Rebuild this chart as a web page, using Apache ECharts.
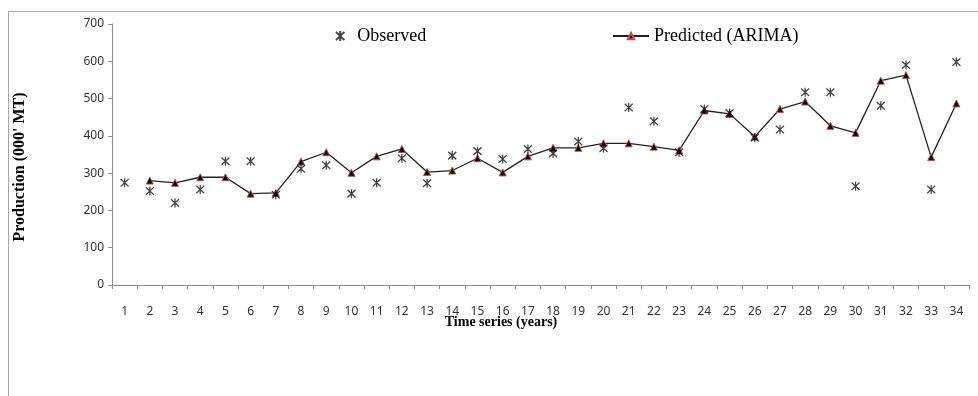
<!DOCTYPE html>
<html>
<head>
<meta charset="utf-8">
<script src="https://cdn.jsdelivr.net/npm/echarts@6/dist/echarts.min.js"></script>
<style>
html,body{margin:0;padding:0;background:#fff;}
#chart{width:978px;height:396px;}
</style>
</head>
<body>
<div id="chart"></div>
<script>
const years = ['1','2','3','4','5','6','7','8','9','10','11','12','13','14','15','16','17','18','19','20','21','22','23','24','25','26','27','28','29','30','31','32','33','34'];
const observed = [274,252,220,256,332,332,242,312,321,245,274,340,273,347,359,338,365,353,385,367,476,439,356,472,461,395,417,517,517,265,481,590,256,598];
const predicted = [null,280,274,289,289,245,247,331,356,301,345,365,303,307,340,302,345,368,368,380,380,371,361,468,459,398,472,492,427,408,548,563,343,487];
const yTicks = { min: 0, max: 700, interval: 100 };

const asterisk = 'path://M0,0 L10,10 M10,0 L0,10 M5,-1 L5,11';

const chart = echarts.init(document.getElementById('chart'), null, { renderer: 'canvas' });
chart.setOption({
  animation: false,
  backgroundColor: '#fff',
  grid: { left: 112, right: 9, top: 24, bottom: 111, containLabel: false },
  legend: [
    {
      data: ['Observed'], left: 330, top: 22, itemWidth: 10, itemHeight: 10,
      textStyle: { fontFamily: 'Liberation Serif', fontSize: 18, color: '#000', padding: [0, 0, 0, 7] }
    },
    {
      data: ['Predicted (ARIMA)'], left: 607, top: 22, itemWidth: 36, itemHeight: 8,
      textStyle: { fontFamily: 'Liberation Serif', fontSize: 18, color: '#000' }
    }
  ],
  xAxis: {
    type: 'category', data: years, boundaryGap: true,
    axisLine: { lineStyle: { color: '#8c8c8c', width: 1 } },
    axisTick: { show: true, length: 4, alignWithLabel: false, lineStyle: { color: '#8c8c8c' } },
    axisLabel: { fontFamily: 'Noto Sans', fontSize: 12, color: '#333', margin: 21, interval: 0 },
    splitLine: { show: false }
  },
  yAxis: {
    type: 'value', min: yTicks.min, max: yTicks.max, interval: yTicks.interval,
    axisLine: { show: true, lineStyle: { color: '#8c8c8c', width: 1 } },
    axisTick: { show: true, length: 4, lineStyle: { color: '#8c8c8c' } },
    axisLabel: { fontFamily: 'Noto Sans', fontSize: 12, color: '#333', margin: 8 },
    splitLine: { show: false }
  },
  graphic: [
    { type: 'line', shape: { x1: 8, y1: 11.5, x2: 978, y2: 11.5 }, style: { stroke: '#a6a6a6', lineWidth: 1 }, silent: true },
    { type: 'line', shape: { x1: 8.5, y1: 11, x2: 8.5, y2: 396 }, style: { stroke: '#a6a6a6', lineWidth: 1 }, silent: true },
    { type: 'text', x: 501, y: 322, style: { text: 'Time series (years)', font: 'bold 14px "Liberation Serif"', fill: '#000', textAlign: 'center', textVerticalAlign: 'middle' } },
    { type: 'text', x: 20, y: 167, rotation: Math.PI / 2, style: { text: "Production (000' MT)", font: 'bold 16px "Liberation Serif"', fill: '#000', textAlign: 'center', textVerticalAlign: 'middle' } }
  ],
  series: [
    {
      name: 'Observed', type: 'scatter', data: observed,
      symbol: asterisk, symbolSize: [8, 9],
      itemStyle: { color: 'rgba(0,0,0,0)', borderColor: '#111', borderWidth: 1.3 },
      z: 3
    },
    {
      name: 'Predicted (ARIMA)', type: 'line', data: predicted,
      symbol: 'triangle', symbolSize: 7, showSymbol: true,
      lineStyle: { color: '#222', width: 1.3 },
      itemStyle: { color: '#000', borderColor: '#c0504d', borderWidth: 1 },
      z: 2
    }
  ]
});
</script>
</body>
</html>
